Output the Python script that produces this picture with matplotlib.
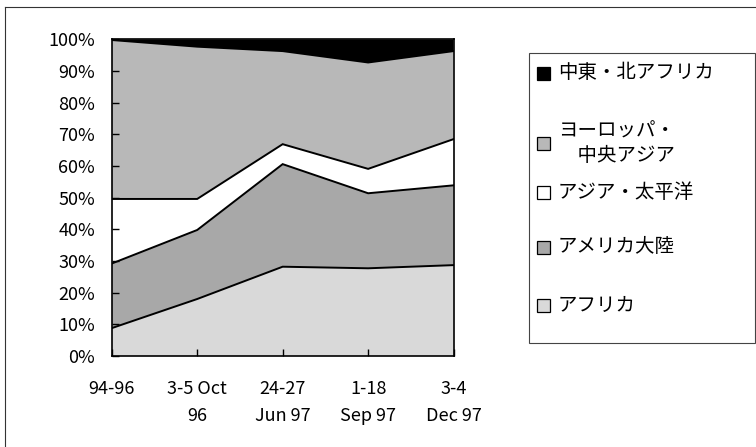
import numpy as np
import matplotlib
matplotlib.use('Agg')
import matplotlib.pyplot as plt
from matplotlib.patches import Rectangle
from matplotlib.lines import Line2D

plt.rcParams['font.family'] = ['Noto Sans CJK JP', 'DejaVu Sans']

# data (share, %)
periods = ['94-96', '3-5 Oct\n96', '24-27\nJun 97', '1-18\nSep 97', '3-4\nDec 97']
africa = [8.8, 18.0, 28.2, 27.7, 28.7]
americas = [20.4, 21.8, 32.4, 23.7, 25.2]
asia = [20.4, 9.8, 6.3, 7.7, 14.6]
europe = [50.2, 48.1, 29.4, 33.6, 27.8]
mideast = [0.2, 2.3, 3.7, 7.3, 3.7]

labels = ['アフリカ', 'アメリカ大陸', 'アジア・太平洋', 'ヨーロッパ・\n　中央アジア', '中東・北アフリカ']
colors = ['#d9d9d9', '#a8a8a8', '#ffffff', '#b8b8b8', '#000000']

fig = plt.figure(figsize=(7.56, 4.47), dpi=100)
ax = fig.add_axes([0.1478, 0.2036, 0.4522, 0.7083])

x = np.arange(len(periods))
layers = [africa, americas, asia, europe, mideast]
ax.stackplot(x, layers, colors=colors, linewidth=0)
cum = np.cumsum(layers, axis=0)
for row in cum[:4]:
    ax.plot(x, row, color='black', lw=1.4, solid_joinstyle='miter')

ax.set_xlim(0, len(periods) - 1)
ax.set_ylim(0, 100)
ax.set_yticks(np.arange(0, 101, 10))
ax.set_yticklabels(['%d%%' % v for v in range(0, 101, 10)])
ax.set_xticks(x)
ax.set_xticklabels(periods, linespacing=1.7)
ax.tick_params(axis='y', direction='in', length=5, width=1, pad=12, labelsize=13)
ax.tick_params(axis='x', direction='in', length=5, width=1, pad=17, labelsize=13)
for s in ax.spines.values():
    s.set_linewidth(1.2)

# legend box drawn by hand
W, H = 756, 447
fig.patches.append(Rectangle((529 / W, 1 - 343 / H), (755 - 529) / W, (343 - 53) / H,
                             transform=fig.transFigure, fill=False, edgecolor='#444444', lw=0.8))
ys = [305, 247, 192, 143.5, 73]
for lab, col, yc in zip(labels, colors, ys):
    fig.patches.append(Rectangle((537 / W, 1 - (yc + 6.5) / H), 13 / W, 13 / H,
                                 transform=fig.transFigure, facecolor=col, edgecolor='black', lw=0.9))
    fig.text(558 / W, 1 - yc / H, lab, fontsize=14, va='center', ha='left', linespacing=1.2)

# outer frame (cut off at the right and bottom)
fig.add_artist(Line2D([5 / W, 5 / W], [0, 1 - 7 / H], transform=fig.transFigure, color='#333333', lw=0.8))
fig.add_artist(Line2D([5 / W, 1], [1 - 7 / H, 1 - 7 / H], transform=fig.transFigure, color='#333333', lw=0.8))

fig.savefig('out.png', dpi=100)
